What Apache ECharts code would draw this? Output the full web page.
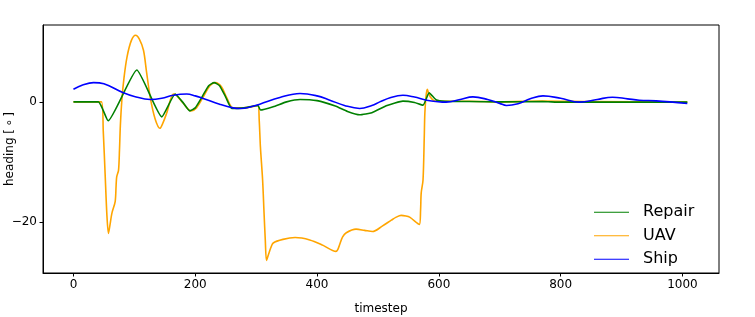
<!DOCTYPE html>
<html>
<head>
<meta charset="utf-8">
<script src="https://cdn.jsdelivr.net/npm/echarts@6/dist/echarts.min.js"></script>
<style>html,body{margin:0;padding:0;background:#fff}#c{width:755px;height:317px}</style>
</head>
<body>
<div id="c"></div>
<script>
var xTicks = [0, 200, 400, 600, 800, 1000];
var yTicks = [-20, 0];

var repairX = [0, 41, 57, 104, 145, 167, 179, 191, 200, 211, 222, 231, 240, 250, 260, 280, 303, 307, 328, 350, 372, 400, 430, 450, 470, 490, 515, 541, 560, 574, 584, 596, 610, 650, 700, 770, 800, 900, 1008];
var repairY = [0, 0, -3.15, 5.3, -2.5, 1.3, 0.0, -1.5, -1.0, 0.8, 2.7, 3.2, 2.7, 0.8, -1.1, -1.0, -0.6, -1.35, -0.8, 0.0, 0.4, 0.2, -0.7, -1.6, -2.15, -1.8, -0.6, 0.12, -0.1, -0.55, 1.5, 0.3, 0.1, 0.05, 0.0, 0.05, -0.05, -0.05, -0.05];

var uavX = [0, 46, 49, 52, 55, 57.5, 60, 63, 68.5, 70, 71, 74, 75.6, 77, 79.5, 83, 88, 95, 102, 108, 115, 120, 126, 134, 142, 147, 153, 164, 168, 180, 193, 202, 213, 224, 233, 243, 252, 262, 280, 303, 305, 307, 310.6, 313, 315, 317, 320, 324, 328, 344, 364, 388, 410, 431, 434, 437, 442, 448, 464, 478, 491, 507, 522, 530, 538, 546, 552, 568, 570, 571, 574, 576, 577, 579, 581, 583, 586, 592, 600, 650, 700, 770, 850, 1008];
var uavY = [0, 0, -5, -12, -19, -21.9, -20.5, -18.6, -16.6, -14, -12.5, -11.4, -8, -4, 0.3, 4, 7.5, 10.2, 11.1, 10.5, 8.6, 5, 0.8, -2.8, -4.4, -3.5, -1.9, 1.3, 1.2, -0.2, -1.5, -1.0, 0.8, 2.7, 3.2, 2.5, 0.6, -1.0, -1.0, -0.6, -3, -7.5, -13, -18.6, -23, -26.4, -25.5, -24.3, -23.5, -22.9, -22.6, -23, -23.9, -24.9, -24.6, -23.8, -22.5, -21.8, -21.2, -21.4, -21.6, -20.7, -19.7, -19.2, -18.9, -19.0, -19.2, -20.4, -18, -15.2, -13, -6, -1.9, 1.0, 2.1, 1.5, 0.8, 0.2, 0.1, 0.1, 0.0, 0.15, 0.05, -0.05];

var shipX = [0, 15, 33, 50, 82, 100, 126, 145, 164, 186, 200, 213, 240, 262, 275, 290, 306, 339, 372, 400, 421, 445, 470, 490, 503, 520, 541, 560, 580, 612, 635, 656, 680, 700, 711, 730, 750, 771, 800, 831, 860, 885, 910, 929, 957, 980, 1008];
var shipY = [2.1, 2.8, 3.2, 3.0, 1.5, 0.9, 0.4, 0.6, 1.1, 1.3, 1.0, 0.56, -0.4, -1.0, -1.1, -0.85, -0.38, 0.73, 1.4, 1.0, 0.28, -0.6, -1.1, -0.6, 0.0, 0.7, 1.1, 0.8, 0.28, -0.05, 0.4, 0.83, 0.4, -0.25, -0.6, -0.3, 0.5, 1.0, 0.6, -0.05, 0.4, 0.78, 0.5, 0.28, 0.17, 0.0, -0.27];

function pairs(xs, ys) { return xs.map(function (x, i) { return [x, ys[i]]; }); }

var FONT = 'DejaVu Sans';
var chart = echarts.init(document.getElementById('c'), null, {renderer: 'canvas'});
chart.setOption({
  animation: false,
  backgroundColor: '#fff',
  textStyle: {fontFamily: FONT},
  grid: {left: 43, right: 36, top: 25, bottom: 44, containLabel: false, outerBoundsMode: 'none',
    show: true, borderColor: '#000', borderWidth: 1, backgroundColor: 'transparent'},
  xAxis: {
    type: 'value', min: -50, max: 1060,
    name: 'timestep', nameLocation: 'middle', nameGap: 30, nameMoveOverlap: false,
    nameTextStyle: {fontFamily: FONT, fontSize: 12, color: '#000'},
    axisLine: {show: true, onZero: false, lineStyle: {color: '#000', width: 1}},
    axisTick: {show: true, length: 3.5, inside: false, customValues: xTicks, lineStyle: {color: '#000'}},
    axisLabel: {customValues: xTicks, margin: 6, fontFamily: FONT, fontSize: 12, color: '#000',
      formatter: function (v) { return String(v); }},
    splitLine: {show: false}
  },
  yAxis: {
    type: 'value', min: -28.5, max: 12.8,
    name: 'heading [\u2009\u2218\u2009]', nameLocation: 'middle', nameGap: 27, nameMoveOverlap: false,
    nameTextStyle: {fontFamily: FONT, fontSize: 12, color: '#000'},
    axisLine: {show: true, onZero: false, lineStyle: {color: '#000', width: 1}},
    axisTick: {show: true, length: 3.5, inside: false, customValues: yTicks, lineStyle: {color: '#000'}},
    axisLabel: {customValues: yTicks, margin: 6, fontFamily: FONT, fontSize: 12, color: '#000',
      formatter: function (v) { return v < 0 ? '\u2212' + Math.abs(v) : String(v); }},
    splitLine: {show: false}
  },
  legend: {
    orient: 'vertical', left: 589, top: 199,
    data: ['Repair', 'UAV', 'Ship'],
    icon: 'rect', itemWidth: 35, itemHeight: 1.2, itemGap: 7,
    textStyle: {fontFamily: FONT, fontSize: 16, color: '#000', padding: [0, 0, 0, 9], lineHeight: 16.5},
    selectedMode: false
  },
  series: [
    {name: 'UAV', type: 'line', data: pairs(uavX, uavY), showSymbol: false, smooth: 0.3,
      lineStyle: {color: '#FFA500', width: 1.6}, itemStyle: {color: '#FFA500'}},
    {name: 'Repair', type: 'line', data: pairs(repairX, repairY), showSymbol: false, smooth: 0.15,
      lineStyle: {color: '#008000', width: 1.6}, itemStyle: {color: '#008000'}},
    {name: 'Ship', type: 'line', data: pairs(shipX, shipY), showSymbol: false, smooth: 0.4,
      lineStyle: {color: '#0000FF', width: 1.6}, itemStyle: {color: '#0000FF'}}
  ]
});
</script>
</body>
</html>
